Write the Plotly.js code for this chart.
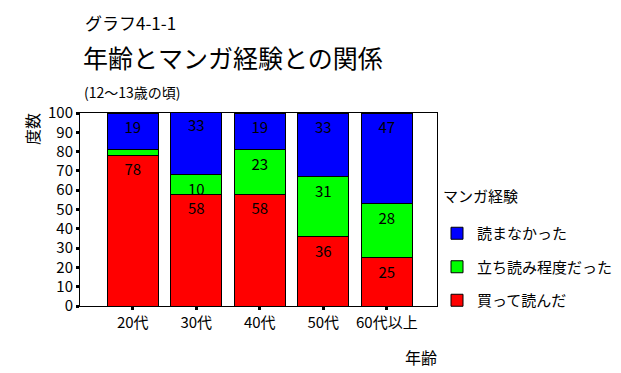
<!DOCTYPE html>
<html>
<head>
<meta charset="utf-8">
<script src="https://cdn.plot.ly/plotly-3.0.1.min.js"></script>
<style>html,body{margin:0;padding:0;background:#fff;}#chart{width:621px;height:373px;}</style>
</head>
<body>
<div id="chart"></div>
<script>
const categories = ["20代", "30代", "40代", "50代", "60代以上"];
const seriesNames = ["買って読んだ", "立ち読み程度だった", "読まなかった"];
const bought = [78, 58, 58, 36, 25];
const standing = [3, 10, 23, 31, 28];
const notRead = [19, 33, 19, 33, 47];
const standingLabels = ["", "10", "23", "31", "28"];
const yTicks = [0, 10, 20, 30, 40, 50, 60, 70, 80, 90, 100];

const FONT = "Noto Sans CJK JP, sans-serif";
const colors = ["#ff0000", "#00ff00", "#0000ff"];
const values = [bought, standing, notRead];
const labels = [bought.map(String), standingLabels, notRead.map(String)];

const traces = values.map((v, i) => ({
  type: "bar",
  name: seriesNames[i],
  x: categories,
  y: v,
  text: labels[i],
  textposition: "inside",
  insidetextanchor: "end",
  constraintext: "none",
  textangle: 0,
  textfont: {family: FONT, size: 15, color: "#000"},
  marker: {color: colors[i], line: {color: "#000", width: 1}},
  legendgroup: "g" + i,
  legendrank: 3 - i,
  hoverinfo: "skip"
}));

const layout = {
  width: 621, height: 373,
  margin: {l: 80, r: 184, t: 113, b: 67},
  paper_bgcolor: "#fff", plot_bgcolor: "#fff",
  barmode: "stack",
  bargap: 0.2,
  showlegend: true,
  font: {family: FONT, size: 15, color: "#000"},
  xaxis: {
    range: [-0.83, 4.79],
    showline: true, linecolor: "#000", linewidth: 1, mirror: true,
    ticks: "outside", ticklen: 3, tickwidth: 3, tickcolor: "#000",
    tickfont: {family: FONT, size: 15},
    showgrid: false, zeroline: false, fixedrange: true
  },
  yaxis: {
    range: [0, 100],
    tickvals: yTicks,
    showline: true, linecolor: "#000", linewidth: 1, mirror: true,
    ticks: "outside", ticklen: 3, tickwidth: 3, tickcolor: "#000",
    tickfont: {family: FONT, size: 15},
    showgrid: false, zeroline: false, fixedrange: true
  },
  legend: {
    xref: "container", yref: "container",
    x: 437/621, xanchor: "left", y: (373-217)/373, yanchor: "top",
    traceorder: "grouped",
    tracegroupgap: 11,
    font: {family: FONT, size: 15},
    bgcolor: "rgba(0,0,0,0)"
  },
  annotations: [
    {text: "グラフ4-1-1", xref: "paper", yref: "paper", x: (83-80)/357, y: (306-22)/193, xanchor: "left", yanchor: "middle", showarrow: false, font: {family: FONT, size: 17}},
    {text: "年齢とマンガ経験との関係", xref: "paper", yref: "paper", x: (81-80)/357, y: (306-57)/193, xanchor: "left", yanchor: "middle", showarrow: false, font: {family: FONT, size: 25}},
    {text: "(12〜13歳の頃)", xref: "paper", yref: "paper", x: (82-80)/357, y: (306-92)/193, xanchor: "left", yanchor: "middle", showarrow: false, font: {family: FONT, size: 14}},
    {text: "度数", xref: "paper", yref: "paper", x: (32-80)/357, y: (306-129)/193, xanchor: "center", yanchor: "middle", textangle: -90, showarrow: false, font: {family: FONT, size: 16}},
    {text: "年齢", xref: "paper", yref: "paper", x: (421-80)/357, y: (306-357)/193, xanchor: "center", yanchor: "middle", showarrow: false, font: {family: FONT, size: 16}},
    {text: "マンガ経験", xref: "paper", yref: "paper", x: (441-80)/357, y: (306-195)/193, xanchor: "left", yanchor: "middle", showarrow: false, font: {family: FONT, size: 15}}
  ]
};

Plotly.newPlot("chart", traces, layout, {displayModeBar: false, staticPlot: true});
</script>
</body>
</html>
